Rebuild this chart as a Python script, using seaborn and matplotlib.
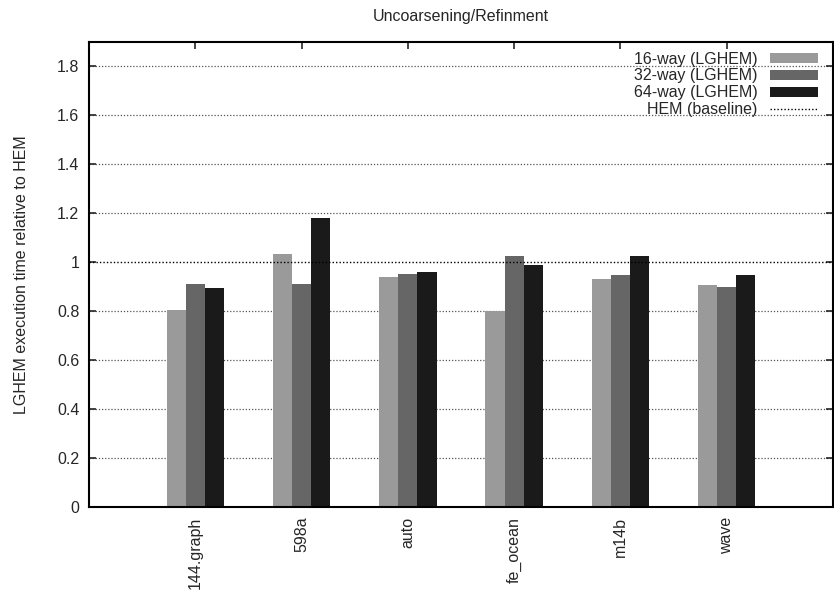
import matplotlib
matplotlib.use("Agg")
import matplotlib.pyplot as plt
import seaborn as sns
import pandas as pd
from matplotlib.patches import Patch
from matplotlib.lines import Line2D

graphs = ["144.graph", "598a", "auto", "fe_ocean", "m14b", "wave"]
series = ["16-way (LGHEM)", "32-way (LGHEM)", "64-way (LGHEM)"]
way16 = [0.806, 1.035, 0.941, 0.802, 0.933, 0.908]
way32 = [0.912, 0.912, 0.953, 1.027, 0.949, 0.900]
way64 = [0.896, 1.182, 0.961, 0.990, 1.027, 0.949]
baseline = 1.0
colors = ["#9a9a9a", "#666666", "#1a1a1a"]
yticks = [0, 0.2, 0.4, 0.6, 0.8, 1, 1.2, 1.4, 1.6, 1.8]
ytick_labels = ["0", "0.2", "0.4", "0.6", "0.8", "1", "1.2", "1.4", "1.6", "1.8"]

rows = []
for name, vals in zip(series, [way16, way32, way64]):
    for g, v in zip(graphs, vals):
        rows.append({"graph": g, "series": name, "value": v})
df = pd.DataFrame(rows)

sns.set_style("white")
plt.rcParams["font.family"] = ["Liberation Sans", "DejaVu Sans"]
FS = 11.5

fig = plt.figure(figsize=(8.34, 5.94), dpi=100)
ax = fig.add_axes([0.1067, 0.1465, 0.8921, 0.7828])

# dotted reference grid behind the bars
for y in yticks[1:]:
    if y == baseline:
        continue
    ax.axhline(y, color="#555555", lw=0.9, ls=(0, (1, 1.5)), zorder=0)

sns.barplot(data=df, x="graph", y="value", hue="series", order=graphs,
            hue_order=series, palette=colors, width=0.54, saturation=1,
            linewidth=0, ax=ax, legend=False, zorder=2)

ax.axhline(baseline, color="black", lw=1.0, ls=(0, (1, 1.5)), zorder=3)

ax.set_xlim(-1, 6)
ax.set_ylim(0, 1.9)
ax.set_yticks(yticks)
ax.set_yticklabels(ytick_labels, fontsize=FS)
ax.set_xticks(range(len(graphs)))
ax.set_xticklabels(graphs, rotation=90, fontsize=FS, ha="center", va="top")
ax.set_xlabel("")
ax.set_ylabel("LGHEM execution time relative to HEM", fontsize=FS, labelpad=20)
ax.set_title("Uncoarsening/Refinment", fontsize=FS, pad=15)

ax.tick_params(axis="both", direction="in", length=5, width=1.2,
               top=True, right=True, bottom=True, left=True, pad=7)
for sp in ax.spines.values():
    sp.set_linewidth(1.5)
    sp.set_color("black")
    sp.set_visible(True)

handles = [Patch(facecolor=c, edgecolor="none") for c in colors]
handles.append(Line2D([0], [0], color="black", lw=1.0, ls=(0, (1, 1.5))))
labels = series + ["HEM (baseline)"]
ax.legend(handles, labels, loc="upper right", bbox_to_anchor=(0.993, 1.0),
          frameon=False, markerfirst=False, fontsize=FS, handlelength=3.0,
          handleheight=0.6, labelspacing=0.12, handletextpad=0.8,
          borderaxespad=0.2)

fig.savefig("out.png", dpi=100)
